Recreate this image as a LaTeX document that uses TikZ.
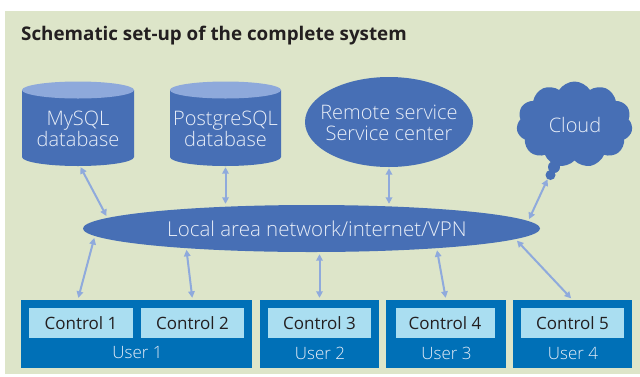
\documentclass[tikz,border=0pt]{standalone}
\usepackage{fontspec}
\setmainfont{Open Sans}
\newfontfamily\lightfont{Open Sans Light}
\usetikzlibrary{shapes.geometric,shapes.symbols,arrows.meta,calc}
\definecolor{panel}{HTML}{DDE5C9}
\definecolor{shapeblue}{HTML}{476FB5}
\definecolor{toplight}{HTML}{8EA9DB}
\definecolor{arrowblue}{HTML}{8FAADC}
\definecolor{userblue}{HTML}{0070B7}
\definecolor{ctrlblue}{HTML}{AADEF1}
\definecolor{paletext}{HTML}{E8EEF8}
\definecolor{darktext}{HTML}{231F20}
\tikzset{
  lighttext/.style={text=paletext, inner sep=0pt, align=center,
    font=\lightfont\fontsize{20}{21.5}\selectfont},
  usertext/.style={text=paletext, inner sep=0pt,
    font=\lightfont\fontsize{17}{20}\selectfont},
  anchorbox/.style={draw=none, inner sep=0pt, minimum width=#1},
  userbox/.style={fill=userblue, inner sep=0pt, minimum height=68pt, minimum width=#1},
  ctrlbox/.style={fill=ctrlblue, inner sep=0pt, minimum height=30pt, minimum width=#1,
    text=darktext, font=\fontsize{17}{20}\selectfont},
  arr/.style={draw=arrowblue, line width=2pt,
    {Triangle[length=6.5pt,width=6.5pt]}-{Triangle[length=6.5pt,width=6.5pt]}},
}
\begin{document}
\begin{tikzpicture}[x=1pt,y=-1pt]
\useasboundingbox (0,0) rectangle (640,376);
\fill[white] (0,0) rectangle (640,376);
\fill[panel] (5,11) rectangle (640,374);
\node[anchor=base west, inner sep=0pt, text=darktext,
  font=\bfseries\fontsize{18.8}{22}\selectfont] (title) at (21,40)
  {Schematic set-up of the complete system};

% MySQL cylinder
\fill[shapeblue] (22,90) -- (22,157) .. controls (22,162) and (47,166) .. (78,166)
  .. controls (109,166) and (134,162) .. (134,157) -- (134,90) -- cycle;
\fill[toplight] (78,90) ellipse [x radius=56pt, y radius=8.5pt];
\node[anchorbox=112pt, minimum height=84pt] (mysql) at (78,124) {};
\node[lighttext] (mysqlt) at (78,129) {MySQL\\database};

% PostgreSQL cylinder
\fill[shapeblue] (170,90) -- (170,157) .. controls (170,162) and (194.8,166) .. (225.5,166)
  .. controls (256.2,166) and (281,162) .. (281,157) -- (281,90) -- cycle;
\fill[toplight] (225.5,90) ellipse [x radius=55.5pt, y radius=8.5pt];
\node[anchorbox=111pt, minimum height=84pt] (pg) at (225.5,124) {};
\node[lighttext] (pgt) at (225.5,129) {PostgreSQL\\database};

% Remote service
\node[ellipse, fill=shapeblue, inner sep=0pt, minimum width=168pt, minimum height=90pt] (remote) at (389,122) {};
\node[lighttext] (remotet) at (389,123) {Remote service\\Service center};

% Cloud
\node[cloud, cloud puffs=11, cloud puff arc=115, aspect=1.35, fill=shapeblue,
  inner sep=0pt, minimum width=116pt, minimum height=86pt] (cloud) at (574.5,124.5) {};
\node[lighttext] (cloudt) at (575,125) {Cloud};
\node[circle, fill=shapeblue, inner sep=0pt, minimum size=12pt] (tail1) at (554,167) {};
\node[circle, fill=shapeblue, inner sep=0pt, minimum size=10pt] (tail2) at (550.5,175) {};

% LAN
\node[ellipse, fill=shapeblue, inner sep=0pt, minimum width=457pt, minimum height=47pt] (lan) at (311.5,228.5) {};
\node[lighttext, font=\lightfont\fontsize{20.5}{22}\selectfont] (lant) at (317,229) {Local area network/internet/VPN};

% Users
\node[userbox=231pt] (user1) at (136.5,334) {};
\node[userbox=119pt] (user2) at (319.5,334) {};
\node[userbox=120pt] (user3) at (446,334) {};
\node[userbox=119pt] (user4) at (572.5,334) {};
\node[ctrlbox=104pt] (c1) at (81,323) {Control 1};
\node[ctrlbox=103pt] (c2) at (192.5,323) {Control 2};
\node[ctrlbox=103pt] (c3) at (319.5,323) {Control 3};
\node[ctrlbox=99pt] (c4) at (445,323) {Control 4};
\node[ctrlbox=103pt] (c5) at (572.5,323) {Control 5};
\node[usertext] (u1t) at (137.5,353) {User 1};
\node[usertext] (u2t) at (320,353) {User 2};
\node[usertext] (u3t) at (446.5,353) {User 3};
\node[usertext] (u4t) at (573,353) {User 4};

% Connectors
\draw[arr, shorten <=1pt, shorten >=2pt] ([xshift=2pt]mysql.south) -- (lan.177.75);
\draw[arr, shorten <=1pt, shorten >=1pt] (pg.south) -- (pg.south |- lan.north);
\draw[arr, shorten <=1pt, shorten >=1pt] (remote.south) -- (remote.south |- lan.north);
\draw[arr, shorten <=0pt, shorten >=2pt] (tail2.235) -- (lan.2.25);
\draw[arr, shorten <=2pt, shorten >=2pt] (lan.182.25) -- ([xshift=57pt]user1.north west);
\draw[arr, shorten <=1.5pt, shorten >=2pt] (lan.189.57) -- (c2.north |- user1.north);
\draw[arr, shorten <=2pt, shorten >=2pt] (user2 |- lan.south) -- (user2.north);
\draw[arr, shorten <=2pt, shorten >=2pt] (lan.351.97) -- (user3.north);
\draw[arr, shorten <=2pt, shorten >=2pt] (lan.357.84) -- (user4.north);
\end{tikzpicture}
\end{document}
